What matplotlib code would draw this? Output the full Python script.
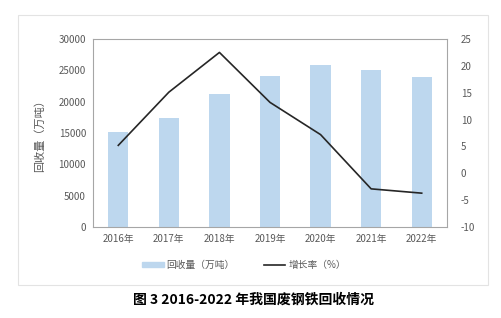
import matplotlib
matplotlib.use("Agg")
import matplotlib.pyplot as plt
from matplotlib.patches import Rectangle
from matplotlib.lines import Line2D

plt.rcParams['font.family'] = ['Noto Sans CJK SC', 'DejaVu Sans']
plt.rcParams['axes.unicode_minus'] = False

years = ["2016年", "2017年", "2018年", "2019年", "2020年", "2021年", "2022年"]
recovery = [15100, 17400, 21300, 24100, 25800, 25000, 24000]
growth = [5.2, 15.1, 22.5, 13.2, 7.2, -2.9, -3.7]
left_ticks = [0, 5000, 10000, 15000, 20000, 25000, 30000]
right_ticks = [-10, -5, 0, 5, 10, 15, 20, 25]

W, H = 502, 318
fig = plt.figure(figsize=(W / 100, H / 100), dpi=100)

def fx(x): return x / W
def fy(y): return 1 - y / H

# outer frame
fig.patches.append(Rectangle((fx(18), fy(285)), fx(488) - fx(18), fy(15) - fy(285),
                             transform=fig.transFigure, fill=False,
                             edgecolor='#E3E3E3', lw=0.8))

ax = fig.add_axes([fx(93), fy(227), fx(447) - fx(93), fy(39) - fy(227)])
x = list(range(len(years)))
ax.bar(x, recovery, width=0.4, color='#BDD7EE', zorder=2)
ax.set_xlim(-0.5, len(years) - 0.5)
ax.set_ylim(0, 30000)
ax.set_yticks(left_ticks)
ax.set_xticks(x)
ax.set_xticklabels(years)
for s in ax.spines.values():
    s.set_color('#A6A6A6')
    s.set_linewidth(0.8)
ax.tick_params(axis='both', length=0, labelsize=7, labelcolor='#595959', pad=5)
ax.set_ylabel('回收量（万吨）', fontsize=8, color='#595959', labelpad=10)

ax2 = ax.twinx()
ax2.plot(x, growth, color='#262626', lw=1.2, zorder=3)
ax2.set_ylim(-10, 25)
ax2.set_yticks(right_ticks)
for s in ax2.spines.values():
    s.set_visible(False)
ax2.tick_params(axis='y', length=0, labelsize=7, labelcolor='#595959', pad=10)

# legend
handles = [Rectangle((0, 0), 1, 1, color='#BDD7EE'),
           Line2D([0], [0], color='#262626', lw=1.2)]
fig.legend(handles, ['回收量（万吨）', '增长率（%）'], loc='center',
           bbox_to_anchor=(fx(244), fy(265)), ncol=2, frameon=False,
           fontsize=7, labelcolor='#595959', handlelength=2.2,
           handleheight=0.5, columnspacing=3.0, handletextpad=0.3)

fig.text(fx(254), fy(300), '图 3 2016-2022 年我国废钢铁回收情况', ha='center', va='center',
         fontsize=10, fontweight='bold', color='#000000')

fig.savefig('out.png', dpi=100)
